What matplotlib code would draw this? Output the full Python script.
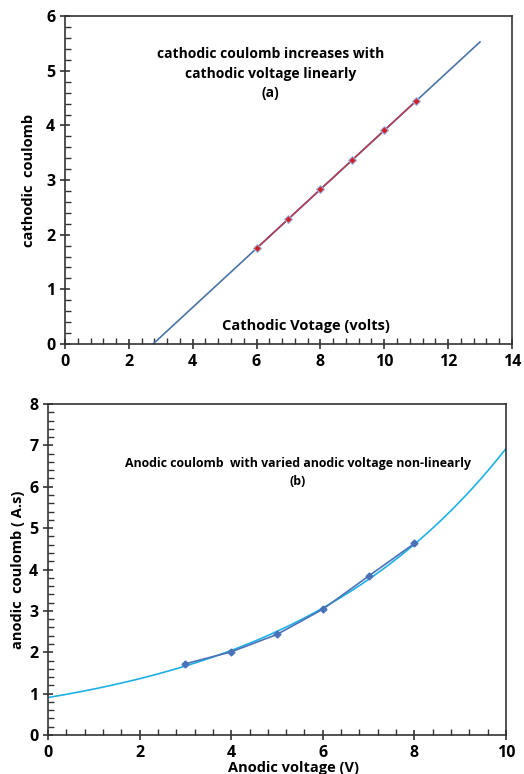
import numpy as np
import matplotlib.pyplot as plt
from matplotlib.ticker import MultipleLocator

plt.rcParams['font.family'] = ['Open Sans', 'DejaVu Sans']
plt.rcParams['font.weight'] = 'bold'

# (a) cathodic
cath_v = [6, 7, 8, 9, 10, 11]
cath_q = [1.75, 2.29, 2.83, 3.37, 3.91, 4.45]

# (b) anodic
an_v = [3, 4, 5, 6, 7, 8]
an_q = [1.72, 2.01, 2.43, 3.04, 3.84, 4.63]


def style_axes(ax, xmaj, ymaj):
    ax.xaxis.set_major_locator(MultipleLocator(xmaj))
    ax.yaxis.set_major_locator(MultipleLocator(ymaj))
    ax.xaxis.set_minor_locator(MultipleLocator(xmaj / 5))
    ax.yaxis.set_minor_locator(MultipleLocator(ymaj / 5))
    ax.tick_params(which='major', direction='inout', length=7, width=1.2, labelsize=11.5, color='#333333')
    ax.tick_params(which='minor', direction='in', length=4, width=1.0, color='#333333')
    for s in ax.spines.values():
        s.set_linewidth(1.2)
        s.set_color('#333333')


fig = plt.figure(figsize=(5.24, 7.74), dpi=100)

# ---- top chart
ax1 = fig.add_axes([0.124, 0.5556, 0.853, 0.4234])
k, b = np.polyfit(cath_v, cath_q, 1)
x0 = -b / k
xt = np.linspace(x0, 13, 50)
ax1.plot(xt, k * xt + b, color='#4A74A6', lw=1.2, zorder=2)
ax1.plot(cath_v, cath_q, color='#B0405A', lw=1.2, marker='D', ms=4,
         mfc='#D0202A', mec='#9DB8E0', mew=0.8, zorder=3)
ax1.set_xlim(0, 14)
ax1.set_ylim(0, 6)
style_axes(ax1, 2, 1)
ax1.set_ylabel('cathodic  coulomb', fontsize=10.5, fontweight='bold', labelpad=7)
ax1.set_xlabel('Cathodic Votage (volts)', fontsize=10.5, fontweight='bold')
ax1.xaxis.set_label_coords(0.539, 0.075)
ax1.text(0.46, 0.905, 'cathodic coulomb increases with\ncathodic voltage linearly\n(a)',
         transform=ax1.transAxes, ha='center', va='top', fontsize=10,
         fontweight='bold', linespacing=1.5)

# ---- bottom chart
ax2 = fig.add_axes([0.0916, 0.0504, 0.874, 0.4276])
pb, pa = np.polyfit(an_v, np.log(an_q), 1)
xe = np.linspace(0, 10, 200)
ax2.plot(xe, np.exp(pa) * np.exp(pb * xe), color='#1FB0E6', lw=1.2, zorder=2)
ax2.plot(an_v, an_q, color='#4A72B8', lw=1.2, marker='D', ms=3.5,
         mfc='#4A72B8', mec='#4A72B8', zorder=3)
ax2.set_xlim(0, 10)
ax2.set_ylim(0, 8)
style_axes(ax2, 2, 1)
ax2.set_ylabel('anodic  coulomb ( A.s)', fontsize=10.5, fontweight='bold', labelpad=3)
ax2.set_xlabel('Anodic voltage (V)', fontsize=10.5, fontweight='bold')
ax2.xaxis.set_label_coords(0.535, -0.08)
ax2.text(0.545, 0.84, 'Anodic coulomb  with varied anodic voltage non-linearly\n(b)',
         transform=ax2.transAxes, ha='center', va='top', fontsize=8.9,
         fontweight='bold', linespacing=1.5)

fig.canvas.draw()
for ax in (ax1, ax2):
    for lab in ax.get_xticklabels() + ax.get_yticklabels():
        lab.set_fontweight('bold')

fig.savefig('out.png', dpi=100)
